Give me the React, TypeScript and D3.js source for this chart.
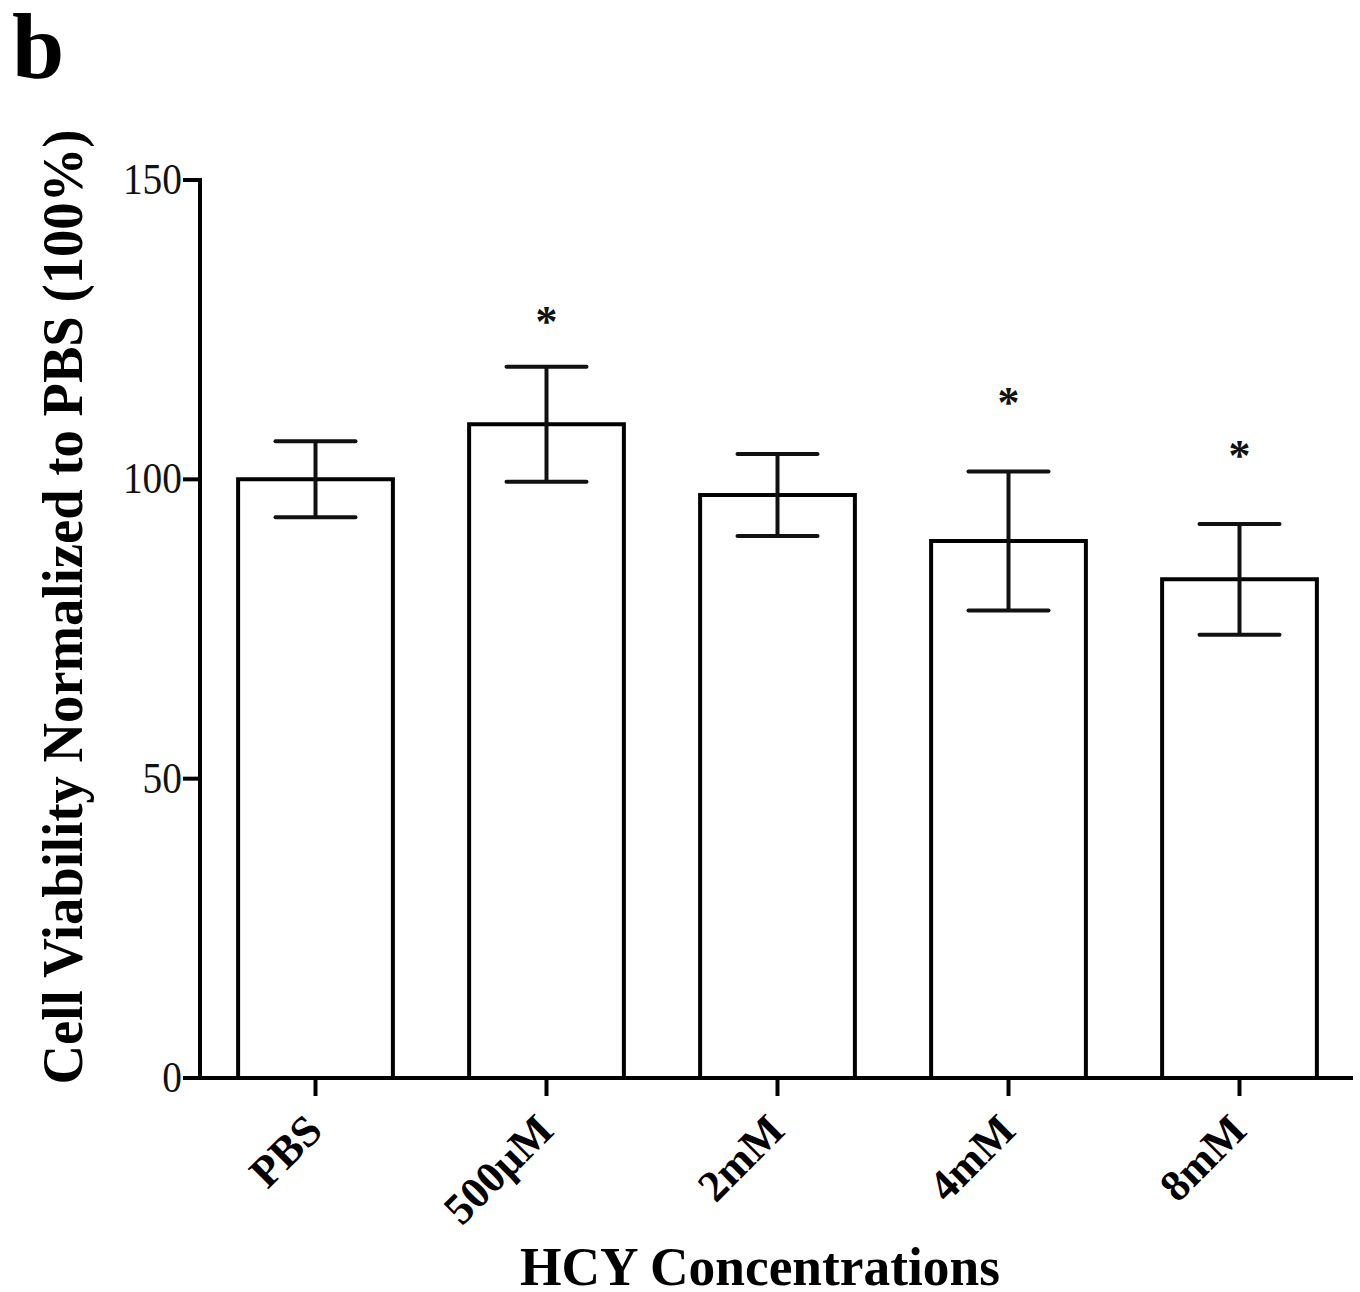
import React from "react";
import * as d3 from "d3";

const categories = ["PBS", "500\u03bcM", "2mM", "4mM", "8mM"];
const means = [100, 109.2, 97.4, 89.7, 83.3];
const sems = [6.35, 9.6, 6.85, 11.6, 9.25];
const starLevels = [null, 127.6, null, 114.1, 105.2];
const yTicks = [0, 50, 100, 150];

const W = 1360;
const H = 1292;
const FONT = "'Liberation Serif', 'Times New Roman', serif";

export default function App() {
  const x = d3
    .scaleBand<string>()
    .domain(categories)
    .range([200, 1355])
    .paddingInner(0.33)
    .paddingOuter(0.165);
  const y = d3.scaleLinear().domain([0, 150]).range([1078, 180]);
  const bw = x.bandwidth();
  const capHalf = 40;
  const sw = 4;

  return (
    <svg
      width={W}
      height={H}
      viewBox={`0 0 ${W} ${H}`}
      style={{ position: "absolute", left: 0, top: 0, background: "#fff" }}
    >
      <rect x={0} y={0} width={W} height={H} fill="#fff" />
      <text x={12} y={78} fontFamily={FONT} fontWeight="bold" fontSize={94} fill="#000">
        b
      </text>

      {/* bars */}
      {categories.map((c, i) => {
        const x0 = x(c)!;
        const top = y(means[i]);
        return (
          <path
            key={c}
            d={`M${x0},${y(0)} L${x0},${top} L${x0 + bw},${top} L${x0 + bw},${y(0)}`}
            fill="#fff"
            stroke="#000"
            strokeWidth={sw}
            strokeLinejoin="miter"
          />
        );
      })}

      {/* error bars */}
      {categories.map((c, i) => {
        const cx = x(c)! + bw / 2;
        const hi = y(means[i] + sems[i]);
        const lo = y(means[i] - sems[i]);
        return (
          <g key={"e" + c} stroke="#111" strokeWidth={sw} strokeLinecap="round">
            <line x1={cx} x2={cx} y1={hi} y2={lo} strokeLinecap="butt" />
            <line x1={cx - capHalf} x2={cx + capHalf} y1={hi} y2={hi} />
            <line x1={cx - capHalf} x2={cx + capHalf} y1={lo} y2={lo} />
          </g>
        );
      })}

      {/* asterisks */}
      {categories.map((c, i) =>
        starLevels[i] == null ? null : (
          <text
            key={"s" + c}
            x={x(c)! + bw / 2}
            y={y(starLevels[i] as number) + 22}
            textAnchor="middle"
            fontFamily={FONT}
            fontSize={44}
            fontWeight="bold"
            fill="#111"
          >
            *
          </text>
        )
      )}

      {/* y axis */}
      <line x1={200} x2={200} y1={y(150) - 2} y2={y(0) + 2} stroke="#000" strokeWidth={sw} />
      {yTicks.map((t) => (
        <g key={"yt" + t}>
          <line x1={183} x2={200} y1={y(t)} y2={y(t)} stroke="#000" strokeWidth={sw} />
          <text
            x={182}
            y={y(t) + 14}
            textAnchor="end"
            fontFamily={FONT}
            fontSize={44}
            fill="#111"
            textLength={String(t).length * 19.7}
            lengthAdjust="spacingAndGlyphs"
          >
            {t}
          </text>
        </g>
      ))}

      {/* x axis */}
      <line x1={198} x2={1353} y1={y(0)} y2={y(0)} stroke="#000" strokeWidth={sw} />
      {categories.map((c) => {
        const cx = x(c)! + bw / 2;
        return (
          <g key={"xt" + c}>
            <line x1={cx} x2={cx} y1={y(0)} y2={y(0) + 18} stroke="#000" strokeWidth={sw} />
            <text
              transform={`translate(${cx + 9},${1133}) rotate(-45)`}
              textAnchor="end"
              fontFamily={FONT}
              fontWeight="bold"
              fontSize={44}
              fill="#000"
            >
              {c}
            </text>
          </g>
        );
      })}

      {/* axis titles */}
      <text
        x={760}
        y={1285}
        textAnchor="middle"
        fontFamily={FONT}
        fontWeight="bold"
        fontSize={54}
        fill="#000"
        textLength={480}
        lengthAdjust="spacingAndGlyphs"
      >
        HCY Concentrations
      </text>
      <text
        transform={`translate(82,607) rotate(-90)`}
        textAnchor="middle"
        fontFamily={FONT}
        fontWeight="bold"
        fontSize={56}
        fill="#000"
        textLength={955}
        lengthAdjust="spacingAndGlyphs"
      >
        Cell Viability Normalized to PBS (100%)
      </text>
    </svg>
  );
}
